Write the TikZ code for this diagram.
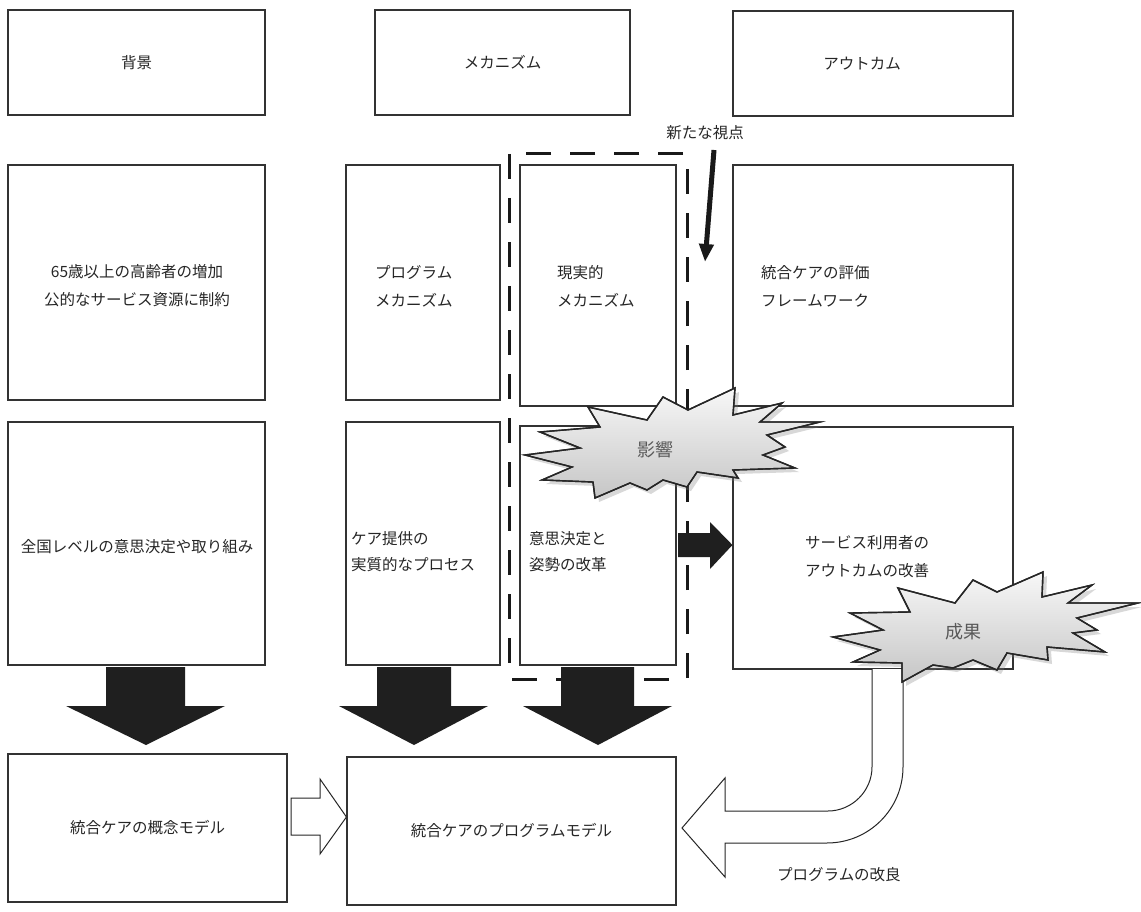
\documentclass[tikz,border=0pt]{standalone}
\usepackage{fontspec}
\newfontfamily\jp{Noto Sans CJK JP}
\usetikzlibrary{shadows,arrows.meta,fit}
\begin{document}
\begin{tikzpicture}[x=1pt,y=-1pt,
  box/.style={draw=black!80, line width=1.1pt, inner sep=0pt},
  txt/.style={font=\jp\fontsize{15.5}{28}\selectfont, text=black!85, inner sep=0pt},
  bigarrow/.style={fill=black!88, draw=none},
  hollow/.style={draw=black!85, line width=1pt, fill=white},
  dashbox/.style={draw=black!90, line width=3pt, dash pattern=on 25pt off 19pt},
  burst/.style={draw=black!85, line width=1.4pt, line join=miter, top color=gray!6, bottom color=gray!45,
     drop shadow={opacity=0.3, shadow xshift=4pt, shadow yshift=-4pt}},
  bursttxt/.style={font=\jp\fontsize{18}{18}\selectfont, text=black!65, inner sep=0pt}
]
\useasboundingbox (0,0) rectangle (1141,912);
\fill[white] (0,0) rectangle (1141,912);

% boxes
\node[box, fit={(8,10) (265,115)}] (bg) {};
\node[box, fit={(375,10) (630,115)}] (mech) {};
\node[box, fit={(733,11) (1013,116)}] (out) {};
\node[box, fit={(8,165) (265,400)}] (bgA) {};
\node[box, fit={(346,165) (500,400)}] (pmech) {};
\node[box, fit={(520,165) (676,406)}] (rmech) {};
\node[box, fit={(733,165) (1013,406)}] (evalf) {};
\node[box, fit={(8,422) (265,665)}] (nat) {};
\node[box, fit={(346,422) (500,665)}] (care) {};
\node[box, fit={(520,426) (676,665)}] (dec) {};
\node[box, fit={(733,427) (1013,669)}] (svc) {};
\node[box, fit={(8,754) (287,902)}] (concept) {};
\node[box, fit={(347,757) (676,905)}] (prog) {};

% texts
\node[txt] (tbg) at (bg.center) {背景};
\node[txt] (tmech) at (mech.center) {メカニズム};
\node[txt] (tout) at (862,64) {アウトカム};
\node[txt, align=center] (tbgA) at (137,286) {65歳以上の高齢者の増加\\公的なサービス資源に制約};
\node[txt, align=left, anchor=west] (tpmech) at (375,286) {プログラム\\メカニズム};
\node[txt, align=left, anchor=west] (trmech) at (557,286) {現実的\\メカニズム};
\node[txt, align=left, anchor=west] (tevalf) at (761,286) {統合ケアの評価\\フレームワーク};
\node[txt] (tnat) at (137,547) {全国レベルの意思決定や取り組み};
\node[txt, align=left, anchor=west, font=\jp\fontsize{15.5}{26}\selectfont] (tcare) at (351,552) {ケア提供の\\実質的なプロセス};
\node[txt, align=left, anchor=west, font=\jp\fontsize{15.5}{26}\selectfont] (tdec) at (529,552) {意思決定と\\姿勢の改革};
\node[txt, align=left, anchor=west] (tsvc) at (805,557) {サービス利用者の\\アウトカムの改善};
\node[txt] (tconcept) at (concept.center) {統合ケアの概念モデル};
\node[txt] (tprog) at (prog.center) {統合ケアのプログラムモデル};
\node[txt, anchor=west] (timp) at (777,875) {プログラムの改良};
\node[txt] (tview) at (705,133) {新たな視点};

% dashed frame
\draw[dashbox] (509,154) rectangle (687,679);

% new viewpoint arrow
\coordinate (vs) at (714,150);
\coordinate (ve) at (705,262);
\draw[line width=5pt, black!90, -{Triangle[length=18pt,width=14pt]}] (vs) -- (ve);

% big down arrows
\fill[bigarrow] (106,667) -- (185,667) -- (185,706) -- (225,706) -- (146,745) -- (66,706) -- (106,706) -- cycle;
\fill[bigarrow] (377,667) -- (451,667) -- (451,706) -- (488,706) -- (414,745) -- (339,706) -- (377,706) -- cycle;
\fill[bigarrow] (561,667) -- (634,667) -- (634,706) -- (672,706) -- (598,745) -- (523,706) -- (561,706) -- cycle;

% right arrow
\fill[bigarrow] (678,533) -- (710,533) -- (710,522) -- (svc.west |- 0,545) -- (710,569) -- (710,557) -- (678,557) -- cycle;

% hollow arrow between bottom boxes
\draw[hollow] (291,798) -- (320,798) -- (320,779) -- (prog.west |- 0,817) -- (320,854) -- (320,835) -- (291,835) -- cycle;

% curved hollow arrow
\draw[hollow] (872,669) -- (872,767) .. controls (872,791) and (852,811) .. (828,811) -- (725,811) -- (725,778) -- (682,828) -- (725,877) -- (725,843) -- (827,843) .. controls (869,843) and (903,809) .. (903,767) -- (903,669);

% bursts
\path[burst] (525,455) -- (580,448) -- (540,432) -- (600,427) -- (588,407) -- (647,420) -- (663,397) -- (688,410) -- (735,388) -- (733,415) -- (782,403) -- (760,422) -- (820,422) -- (767,435) -- (785,447) -- (763,455) -- (795,468) -- (733,470) -- (738,478) -- (697,472) -- (687,487) -- (663,480) -- (647,490) -- (630,483) -- (595,498) -- (593,482) -- (542,480) -- (572,467) -- cycle;
\draw[draw=black!85, line width=1.4pt, line join=miter] (525,455) -- (580,448) -- (540,432) -- (600,427) -- (588,407) -- (647,420) -- (663,397) -- (688,410) -- (735,388) -- (733,415) -- (782,403) -- (760,422) -- (820,422) -- (767,435) -- (785,447) -- (763,455) -- (795,468) -- (733,470) -- (738,478) -- (697,472) -- (687,487) -- (663,480) -- (647,490) -- (630,483) -- (595,498) -- (593,482) -- (542,480) -- (572,467) -- cycle;
\node[bursttxt] (tinf) at (655,450) {影響};

\path[burst] (833,637) -- (883,630) -- (850,613) -- (910,612) -- (898,588) -- (955,603) -- (973,580) -- (997,592) -- (1043,572) -- (1042,597) -- (1092,585) -- (1068,603) -- (1138,603) -- (1077,618) -- (1097,630) -- (1073,633) -- (1105,652) -- (1047,647) -- (1048,660) -- (1007,653) -- (997,670) -- (973,660) -- (953,668) -- (933,665) -- (902,682) -- (902,663) -- (853,662) -- (880,650) -- cycle;
\draw[draw=black!85, line width=1.4pt, line join=miter] (833,637) -- (883,630) -- (850,613) -- (910,612) -- (898,588) -- (955,603) -- (973,580) -- (997,592) -- (1043,572) -- (1042,597) -- (1092,585) -- (1068,603) -- (1138,603) -- (1077,618) -- (1097,630) -- (1073,633) -- (1105,652) -- (1047,647) -- (1048,660) -- (1007,653) -- (997,670) -- (973,660) -- (953,668) -- (933,665) -- (902,682) -- (902,663) -- (853,662) -- (880,650) -- cycle;
\node[bursttxt] (tres) at (963,632) {成果};
\end{tikzpicture}
\end{document}
